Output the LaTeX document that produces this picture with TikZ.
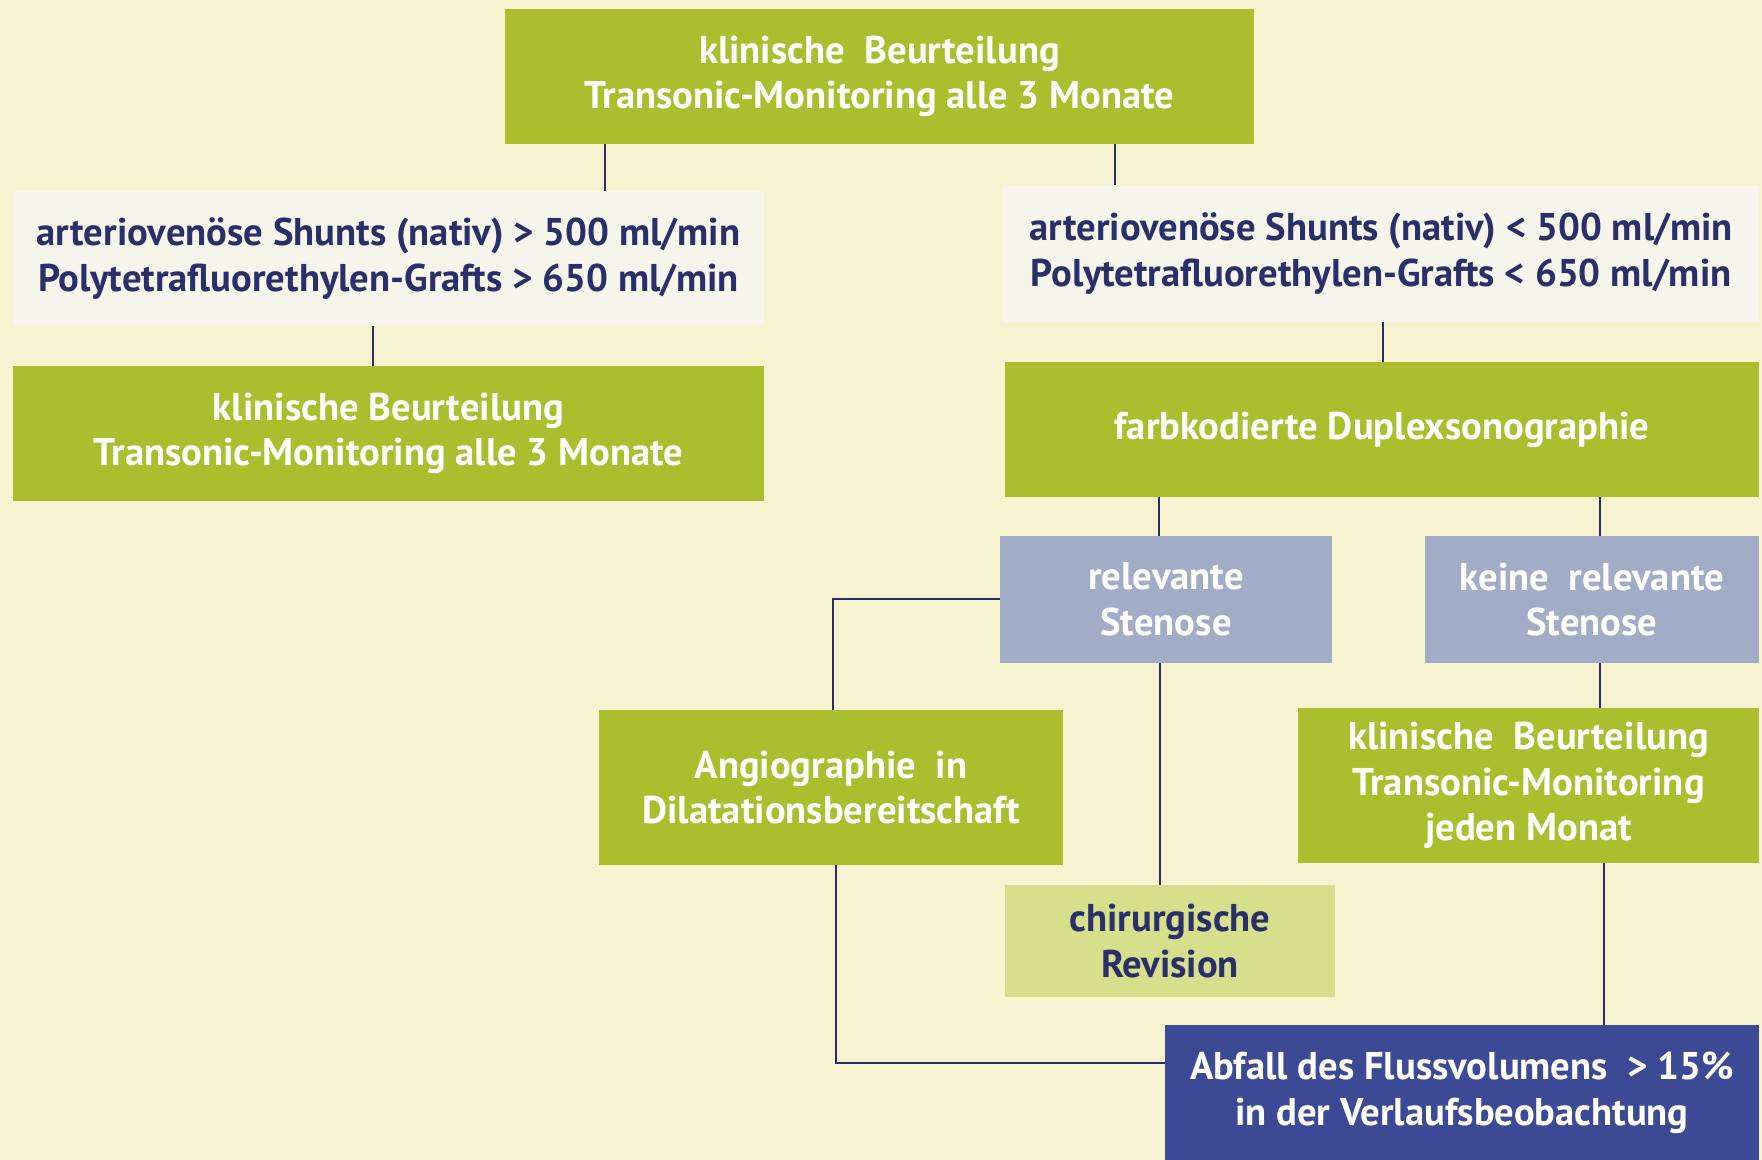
\documentclass[tikz,border=0pt]{standalone}
\usepackage{fontspec}
\setmainfont{PT Sans}
\usepackage{tikz}

\definecolor{paper}{HTML}{F5F3D0}
\definecolor{limegreen}{HTML}{A9BF2E}
\definecolor{paleshade}{HTML}{F6F5EC}
\definecolor{stenosegray}{HTML}{A3ACC6}
\definecolor{palelime}{HTML}{D5DF8C}
\definecolor{deepblue}{HTML}{3C4A96}
\definecolor{navy}{HTML}{2A2F6A}

\tikzset{
    box/.style={rectangle, inner sep=0pt, align=center, font=\bfseries\fontsize{22}{26}\selectfont},
    greenbox/.style={box, fill=limegreen, text=white},
    whitebox/.style={box, fill=paleshade, text=navy},
    graybox/.style={box, fill=stenosegray, text=white},
    limebox/.style={box, fill=palelime, text=navy},
    bluebox/.style={box, fill=deepblue, text=white},
    link/.style={draw=navy, line width=0.9pt}
}

\begin{document}
\begin{tikzpicture}[x=0.02cm, y=-0.02cm]

        % Background
        \fill[paper] (0,0) rectangle (1762,1160);
        \useasboundingbox (0,0) rectangle (1762,1160);

        % Upper part
        \node[greenbox, minimum width=749*0.02cm, minimum height=135*0.02cm] (start) at (879.5,76.5)
            {klinische\ \ Beurteilung\\Transonic-Monitoring alle 3 Monate};
        \node[whitebox, minimum width=751*0.02cm, minimum height=135*0.02cm] (high) at (388.5,258.5)
            {arteriovenöse Shunts (nativ) > 500 ml/min\\Polytetrafluorethylen-Grafts > 650 ml/min};
        \node[whitebox, minimum width=756*0.02cm, minimum height=137*0.02cm] (low) at (1381,253.5)
            {arteriovenöse Shunts (nativ) < 500 ml/min\\Polytetrafluorethylen-Grafts < 650 ml/min};
        \node[greenbox, minimum width=751*0.02cm, minimum height=135*0.02cm] (control) at (388.5,433.5)
            {klinische Beurteilung\\Transonic-Monitoring alle 3 Monate};
        \node[greenbox, minimum width=754*0.02cm, minimum height=135*0.02cm] (duplex) at (1382,429.5)
            {farbkodierte Duplexsonographie};

        % Lower part
        \node[graybox, minimum width=332*0.02cm, minimum height=127*0.02cm] (stenosis) at (1166,599.5)
            {relevante\\Stenose};
        \node[graybox, minimum width=334*0.02cm, minimum height=127*0.02cm] (nostenosis) at (1592,599.5)
            {keine\ \ relevante\\Stenose};
        \node[greenbox, minimum width=464*0.02cm, minimum height=155*0.02cm] (angio) at (831,787.5)
            {Angiographie\ \ in\\Dilatationsbereitschaft};
        \node[greenbox, minimum width=461*0.02cm, minimum height=155*0.02cm] (monthly) at (1528.5,785.5)
            {klinische\ \ Beurteilung\\Transonic-Monitoring\\jeden Monat};
        \node[limebox, minimum width=330*0.02cm, minimum height=112*0.02cm] (surgery) at (1170,941)
            {chirurgische\\Revision};
        \node[bluebox, minimum width=594*0.02cm, minimum height=135*0.02cm] (drop) at (1462,1092.5)
            {Abfall des Flussvolumens\ \ > 15\%\\in der Verlaufsbeobachtung};

        % Connectors
        \draw[link] (start.south -| 605,0) -- (high.north -| 605,0);
        \draw[link] (start.south -| 1115,0) -- (low.north -| 1115,0);
        \draw[link] (high.south -| 373,0) -- (control.north -| 373,0);
        \draw[link] (low.south -| 1383,0) -- (duplex.north -| 1383,0);
        \draw[link] (duplex.south -| 1159,0) -- (stenosis.north -| 1159,0);
        \draw[link] (duplex.south -| 1600,0) -- (nostenosis.north -| 1600,0);
        \draw[link] (stenosis.west |- 0,599) -| (angio.north -| 833,0);
        \draw[link] (stenosis.south -| 1160,0) -- (surgery.north -| 1160,0);
        \draw[link] (nostenosis.south -| 1600,0) -- (monthly.north -| 1600,0);
        \draw[link] (angio.south -| 836,0) |- (drop.west |- 0,1063);
        \draw[link] (monthly.south -| 1604,0) -- (drop.north -| 1604,0);

    \end{tikzpicture}
\end{document}
